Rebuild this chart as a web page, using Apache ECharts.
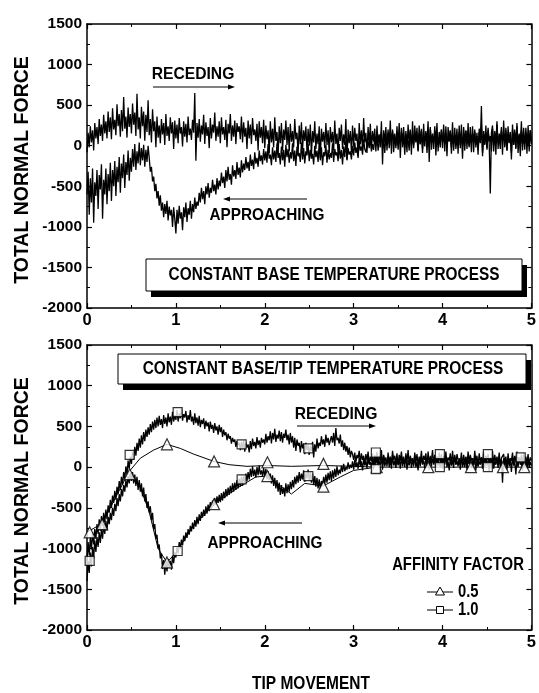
<!DOCTYPE html>
<html><head><meta charset="utf-8">
<script src="https://cdn.jsdelivr.net/npm/echarts@6/dist/echarts.min.js"></script>
<style>html,body{margin:0;padding:0;background:#fff}#c{width:539px;height:693px}</style>
</head><body><div id="c"></div>
<script>
// ---------- DATA ----------
const xRange = [0, 5];
const xTickLabels = ['0','1','2','3','4','5'];
const yTickLabels = ['-2000','-1500','-1000','-500','0','500','1000','1500'];
// each row = 0.25 of TIP MOVEMENT, sampled every 0.0125 (0..5)
const topRecedingY = [
-80,160,-20,240,40,190,-60,280,90,230,20,330,120,260,60,380,150,300,90,420,
170,350,80,460,200,320,130,510,240,390,110,440,180,600,210,360,100,470,230,390,
150,520,260,410,120,640,200,350,90,480,240,420,60,380,170,560,130,330,40,450,
180,300,-20,360,100,250,30,330,140,280,10,390,120,240,60,350,150,290,-40,310,
90,260,30,340,150,230,-10,300,110,270,40,360,130,210,70,320,160,650,-185,280,
100,330,50,250,140,380,20,290,120,230,-30,340,90,260,160,410,60,240,110,300,
30,350,140,230,70,320,-20,270,150,390,60,250,110,310,20,280,170,240,80,360,
40,290,110,220,-40,310,90,260,20,340,130,200,60,270,-60,300,100,230,30,320,
-30,250,80,190,-90,300,40,210,-20,350,60,170,-110,240,30,280,-60,200,70,310,
10,230,-70,270,50,180,-20,330,80,160,-100,250,20,290,-50,190,60,240,-80,210,
0,260,-120,180,40,300,-40,150,20,240,-150,210,50,170,-30,280,10,190,-90,230,
40,170,-60,310,20,150,-110,220,60,260,-40,140,10,330,-170,200,30,180,-80,250,
-10,220,60,150,-130,280,20,190,-50,340,40,160,-90,230,10,270,-40,180,50,210,
-70,250,30,140,-20,300,-230,190,40,230,-60,160,20,310,-100,200,60,150,-30,240,
10,280,-150,170,50,230,-20,140,-80,260,30,190,-110,300,0,160,40,220,-60,250,
20,190,-90,270,-10,160,50,300,-200,210,30,150,-40,240,10,280,-70,170,40,200,
-30,260,20,150,-130,230,60,180,-20,290,-60,140,30,210,-100,250,10,170,-160,230,
50,190,-40,280,0,150,-80,240,30,170,-20,160,-110,210,40,490,-130,180,10,250,
-50,220,30,-590,160,250,-70,180,20,300,-40,150,60,230,-110,310,0,190,-60,240,
30,170,-170,260,10,200,-30,280,-90,150,40,300,-60,220,20,170,-100,250,0,190,
60];
const topApproachY = [
-600,-320,-850,-400,-700,-280,-950,-450,-620,-300,-780,-360,-540,-230,-900,-420,-600,-280,-720,-350,
-560,-210,-680,-300,-500,-190,-620,-260,-450,-140,-580,-220,-400,-110,-520,-200,-360,-60,-430,-150,
-320,-40,-260,20,-300,-70,-220,40,-240,-30,-180,10,-260,-50,-200,0,-150,-320,-260,-440,
-380,-560,-470,-650,-560,-740,-610,-800,-700,-880,-720,-840,-680,-920,-750,-860,-790,-1000,-760,-900,
-1080,-790,-960,-740,-900,-820,-1040,-760,-880,-700,-940,-770,-850,-680,-900,-720,-820,-640,-780,-690,
-740,-580,-700,-520,-660,-560,-720,-500,-600,-460,-640,-520,-580,-420,-560,-480,-600,-400,-540,-430,
-500,-330,-460,-380,-520,-300,-440,-260,-420,-350,-480,-240,-380,-300,-410,-200,-360,-270,-390,-180,
-330,-220,-300,-140,-280,-200,-310,-110,-250,-170,-290,-80,-220,-150,-260,-60,-190,-120,-230,-40,
-180,-70,-210,20,-160,-110,-240,-20,-170,-60,-200,30,-150,-90,-230,-10,-180,-50,-260,10,
-140,-40,-210,-80,-160,30,-190,-60,-250,-10,-130,-90,-200,40,-170,-30,-220,-70,-120,20,
-190,-50,-160,-100,-230,0,-140,-60,-200,40,-180,-20,-240,-80,-130,10,-210,-50,-170,-90,
-150,30,-200,-40,-120,-80,-190,20,-160,-50,-230,-10,-140,60,-180,-30,-110,-70,-170,0,
-120,40,-90,-20,-150,60,-60,-10,-110,80,-40,-80,-100,50,-30,100,-70,20,-50,90,
-10,130,-60,40,20,160,-40,80,-90,120,10,200,-30,60,40,170,-80,110,0,150,
-50,90,30,220,-20,140,-110,180,40,70,-60,200,10,130,-30,250,50,90,-70,160,
20,210,-40,100,60,180,-90,140,0,230,-50,120,30,190,-120,150,10,80,-20,200,
40,150,-70,240,-10,110,50,190,-100,130,20,220,-40,90,60,170,-30,260,0,120,
-60,180,30,100,-20,230,40,150,-80,200,10,120,-50,170,30,240,-90,110,20,160,
-30,190,50,120,-70,210,0,140,-110,260,30,100,-40,180,60,130,-20,220,-60,150,
40,110,-90,200,10,170,-40,240,30,130,-130,180,20,100,-50,220,0,150,-70,190,
20];
const botRecedingY = [
-1150,-920,-1080,-860,-1010,-800,-950,-760,-880,-700,-820,-640,-780,-600,-720,-560,-680,-520,-640,-470,
-560,-400,-500,-350,-440,-290,-400,-240,-330,-170,-280,-120,-220,-60,-150,10,-90,80,-20,130,
40,190,90,250,140,300,200,350,240,390,280,430,320,460,370,490,400,530,430,560,
460,580,480,610,500,630,520,590,480,640,530,610,500,660,550,620,520,680,560,640,
580,700,560,660,600,720,570,650,610,690,550,640,580,700,560,620,520,660,540,610,
510,630,490,580,530,600,470,570,500,550,440,560,470,520,420,540,450,500,400,520,
430,490,370,460,390,430,330,410,350,380,290,360,310,340,250,320,270,300,210,310,
220,330,190,300,240,280,180,320,220,350,260,310,230,370,270,330,240,360,300,340,
280,410,300,380,330,440,290,420,340,470,310,400,350,450,320,430,300,410,360,460,
330,400,280,420,300,380,240,360,200,340,260,300,180,320,230,290,160,300,210,270,
150,260,200,310,120,280,190,350,230,300,260,380,280,340,250,400,300,360,270,330,
380,300,420,260,480,330,360,290,400,250,330,210,300,190,260,150,240,120,200,160,
90,180,60,150,110,200,50,170,90,140,30,160,80,190,40,130,70,170,20,150,
60,190,30,140,80,210,20,150,70,120,10,180,60,130,30,200,90,140,40,170,
20,150,80,190,40,130,0,170,60,210,30,140,70,110,10,180,50,160,20,130,
70,200,30,140,90,170,10,190,50,120,80,210,30,150,60,130,20,180,50,160,
10,140,70,190,40,120,80,170,20,200,60,130,30,160,90,110,40,180,0,150,
60,130,20,190,50,150,80,110,30,200,70,140,10,170,60,120,40,190,20,140,
80,160,30,120,70,200,10,150,60,130,40,180,20,110,90,160,50,130,0,170,
40,110,80,180,20,140,60,190,30,120,70,150,10,170,50,130,40,160,20,120,
80];
const botApproachY = [
-1400,-1150,-1300,-1050,-1220,-980,-1120,-900,-1040,-860,-980,-800,-930,-760,-880,-700,-820,-660,-780,-610,
-700,-560,-650,-500,-600,-450,-540,-380,-480,-330,-420,-270,-360,-220,-300,-160,-250,-110,-200,-70,
-170,-60,-200,-90,-230,-120,-280,-160,-300,-200,-360,-250,-420,-330,-500,-420,-560,-480,-650,-560,
-760,-700,-880,-830,-1000,-950,-1120,-1060,-1250,-1140,-1320,-1160,-1280,-1130,-1240,-1150,-1260,-1090,-1180,-1050,
-1110,-980,-1060,-920,-1000,-890,-960,-840,-910,-800,-870,-760,-830,-720,-790,-680,-760,-650,-730,-610,
-700,-580,-660,-550,-620,-520,-600,-480,-570,-460,-540,-430,-510,-410,-480,-380,-460,-360,-440,-340,
-430,-320,-410,-300,-380,-270,-360,-250,-340,-230,-320,-200,-300,-190,-280,-160,-260,-140,-240,-120,
-230,-110,-200,-80,-170,-60,-150,-20,-120,10,-110,-30,-130,0,-100,20,-90,-40,-110,-10,
-120,-20,-150,-50,-160,-80,-200,-100,-230,-130,-260,-160,-300,-190,-340,-220,-330,-250,-360,-200,
-320,-210,-300,-180,-270,-160,-250,-120,-210,-100,-190,-60,-170,-80,-150,-40,-180,-70,-140,-30,
-160,-60,-190,-80,-220,-110,-240,-130,-260,-150,-270,-170,-230,-120,-210,-90,-190,-70,-160,-50,
-170,-40,-140,-20,-120,10,-100,-30,-80,20,-60,40,-50,0,-30,60,-20,30,-10,70,
-30,90,0,60,-20,110,10,70,-40,100,20,80,-10,120,30,60,0,110,-20,90,
20,130,-10,80,30,110,-30,140,10,70,40,120,0,90,-20,150,20,80,-10,110,
30,100,-20,140,10,70,40,130,-30,90,20,120,-10,80,30,150,0,60,-40,110,
10,130,40,80,-20,120,20,70,-30,140,10,100,50,80,-10,130,20,60,0,110,
-20,90,30,140,0,70,-40,120,20,90,-10,150,30,80,10,110,-30,130,20,70,
0,120,-30,90,40,130,-10,80,20,140,-40,100,10,70,30,120,-20,90,0,130,
20,80,-50,110,10,140,-20,70,30,100,-10,130,0,90,-190,110,20,80,-30,120,
10,90,-60,130,20,70,-90,100,0,120,30,60,-40,110,10,80,-20,100,0,60,
20];
// affinity 0.5 smooth curves
const af05RecX = [0,0.17,0.3,0.47,0.6,0.75,0.9,1.05,1.2,1.43,1.6,1.8,2.03,2.3,2.66,3.0,3.26,3.6,3.84,4.32,4.68,4.92,5.0];
const af05RecY = [-800,-690,-420,-60,110,210,280,230,160,70,30,10,20,10,20,10,0,0,0,0,0,0,0];
const af05AppX = [0.47,0.6,0.7,0.8,0.9,1.0,1.2,1.43,1.7,1.9,2.03,2.2,2.3,2.45,2.66,2.85,3.0,3.26];
const af05AppY = [-90,-250,-550,-1000,-1170,-1050,-720,-455,-250,-120,-110,-250,-330,-200,-230,-120,-40,0];
// marker positions
const af05MarkX = [0.03,0.17,0.48,0.9,1.43,2.03,2.66,3.26,3.84,4.32,4.68,4.92,0.9,1.43,2.03,2.66];
const af05MarkY = [-800,-700,-86,280,70,60,40,0,0,0,0,0,-1170,-455,-110,-240];
const af10MarkX = [0.03,0.48,1.02,1.74,2.49,3.25,3.97,4.51,4.88,1.02,1.74,2.49,3.25,3.97,4.51];
const af10MarkY = [-1150,150,675,280,230,180,160,160,120,-1030,-150,-110,-25,0,0];

// ---------- BUILD ----------
const FONT = '"Liberation Sans",Arial,sans-serif';
function sampled(arr){const step=(xRange[1]-xRange[0])/(arr.length-1);return arr.map((v,i)=>[xRange[0]+i*step,v]);}
function zip(xs,ys){return xs.map((x,i)=>[x,ys[i]]);}
function xAx(gi,pos,labels){return {type:'value',gridIndex:gi,position:pos,min:0,max:5,interval:1,
  axisLine:{show:true,onZero:false,lineStyle:{color:'#000',width:1.5}},
  axisTick:{show:true,inside:true,length:5,lineStyle:{color:'#000',width:1.2}},
  minorTick:{show:true,splitNumber:2,length:3,lineStyle:{color:'#000',width:1}},
  splitLine:{show:false},minorSplitLine:{show:false},
  axisLabel:{show:labels,color:'#000',fontFamily:FONT,fontWeight:'bold',fontSize:16.5,margin:4,
    formatter:v=>xTickLabels[Math.round(v)]}};}
function yAx(gi,pos,labels){return {type:'value',gridIndex:gi,position:pos,min:-2000,max:1500,interval:500,
  axisLine:{show:true,onZero:false,lineStyle:{color:'#000',width:1.5}},
  axisTick:{show:true,inside:true,length:5,lineStyle:{color:'#000',width:1.2}},
  minorTick:{show:true,splitNumber:2,length:3,lineStyle:{color:'#000',width:1}},
  splitLine:{show:false},minorSplitLine:{show:false},
  axisLabel:{show:labels,color:'#000',fontFamily:FONT,fontWeight:'bold',fontSize:15.5,margin:5,
    formatter:v=>yTickLabels[Math.round((v+2000)/500)]}};}
function noisy(xi,yi,data,w){return {type:'line',xAxisIndex:xi,yAxisIndex:yi,data:data,symbol:'none',showSymbol:false,
  lineStyle:{color:'#000',width:w},silent:true,animation:false,sampling:null};}
function marks(xi,yi,data,sym,size){return {type:'scatter',xAxisIndex:xi,yAxisIndex:yi,data:data,symbol:sym,symbolSize:size,
  itemStyle:{color:'#fff',borderColor:'#000',borderWidth:1.2},z:5,silent:true,animation:false};}

function txt(t,x,y,size,sx,align,rot){return {type:'text',silent:true,z:100,x:x,y:y,scaleX:sx||1,rotation:rot||0,
  style:{text:t,x:0,y:0,fill:'#000',font:'bold '+size+'px '+FONT,
  textAlign:align||'center',align:align||'center',textVerticalAlign:'middle',verticalAlign:'middle'}};}
function hline(x1,x2,y){return {type:'line',silent:true,z:100,shape:{x1:x1,y1:y,x2:x2,y2:y},style:{stroke:'#000',lineWidth:1}};}
function arrowR(x1,x2,y){return [hline(x1,x2-4,y),{type:'polygon',silent:true,z:100,shape:{points:[[x2,y],[x2-7,y-2.5],[x2-7,y+2.5]]},style:{fill:'#000'}}];}
function arrowL(x1,x2,y){return [hline(x1+4,x2,y),{type:'polygon',silent:true,z:100,shape:{points:[[x1,y],[x1+7,y-2.5],[x1+7,y+2.5]]},style:{fill:'#000'}}];}
function box(x,y,w,h,t,tx,sx){return [
  {type:'rect',silent:true,z:90,shape:{x:x+5,y:y+6,width:w,height:h},style:{fill:'#000'}},
  {type:'rect',silent:true,z:91,shape:{x:x,y:y,width:w,height:h},style:{fill:'#fff',stroke:'#000',lineWidth:1}},
  txt(t,tx,y+h/2,18,sx)];}

const graphics = [].concat(
  txt('TOTAL NORMAL FORCE',22.5,170,20.5,0.95,'center',Math.PI/2),
  txt('TOTAL NORMAL FORCE',22.5,491,20.5,0.95,'center',Math.PI/2),
  txt('TIP MOVEMENT',311,684,18,0.86),
  txt('RECEDING',193,74,16.5,0.95), arrowR(153,235,87),
  txt('APPROACHING',267,215,16.5,0.93), arrowL(223,307,199),
  box(146,259,376,32,'CONSTANT BASE TEMPERATURE PROCESS',334,0.854),
  box(118,354,408,30,'CONSTANT BASE/TIP TEMPERATURE PROCESS',323,0.858),
  txt('RECEDING',336,414,16.5,0.95), arrowR(297,376,426),
  txt('APPROACHING',265,543,16.5,0.93), arrowL(218,302,523),
  txt('AFFINITY FACTOR',458,565,18,0.825),
  hline(427,453,592), {type:'polygon',silent:true,z:101,shape:{points:[[440,587],[444.5,595],[435.5,595]]},style:{fill:'#fff',stroke:'#000',lineWidth:1}},
  txt('0.5',458,592,18,0.82,'left'),
  hline(427,453,610), {type:'rect',silent:true,z:101,shape:{x:436.5,y:606.5,width:7,height:7},style:{fill:'#fff',stroke:'#000',lineWidth:1}},
  txt('1.0',458,610,18,0.82,'left')
);

const chart = echarts.init(document.getElementById('c'),null,{renderer:'canvas'});
chart.setOption({
  animation:false,
  backgroundColor:'#fff',
  grid:[{left:87,right:7,top:24,height:284},{left:87,right:7,top:345,height:285}],
  xAxis:[xAx(0,'bottom',true),xAx(0,'top',false),xAx(1,'bottom',true),xAx(1,'top',false)],
  yAxis:[yAx(0,'left',true),yAx(0,'right',false),yAx(1,'left',true),yAx(1,'right',false)],
  series:[
    noisy(0,0,sampled(topRecedingY),1.3),
    noisy(0,0,sampled(topApproachY),1.3),
    noisy(2,2,sampled(botRecedingY),1.3),
    noisy(2,2,sampled(botApproachY),1.3),
    noisy(2,2,zip(af05RecX,af05RecY),1),
    noisy(2,2,zip(af05AppX,af05AppY),1),
    marks(2,2,zip(af05MarkX,af05MarkY),'triangle',11),
    marks(2,2,zip(af10MarkX,af10MarkY),'rect',9)
  ],
  graphic:graphics
});
</script></body></html>
